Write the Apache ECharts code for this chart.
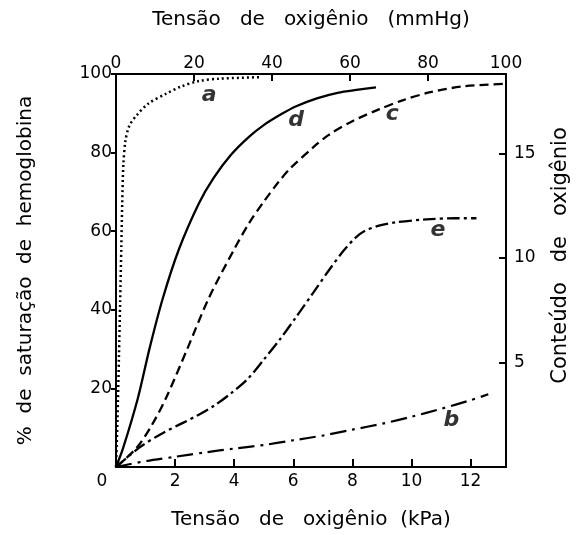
<!DOCTYPE html>
<html>
<head>
<meta charset="utf-8">
<script src="https://cdn.jsdelivr.net/npm/echarts@6/dist/echarts.min.js"></script>
<style>
html,body{margin:0;padding:0;background:#fff;}
#chart{width:579px;height:535px;}
</style>
</head>
<body>
<div id="chart"></div>
<script>
// x in kPa, y in % saturation
const curveA = [[0,0],[0.05,12],[0.1,28],[0.14,42],[0.18,56],[0.21,67],[0.25,77],[0.32,83],[0.45,86.8],[0.7,89.5],[1.1,92.5],[1.7,95],[2.2,96.8],[2.8,98.2],[3.5,98.8],[4.9,99.2]];
const curveD = [[0,0],[0.24,4.8],[0.74,17.5],[1.13,30],[1.58,42.8],[2.13,55.4],[2.8,67],[3.3,73.5],[3.9,79.5],[4.5,84],[5.0,87],[5.6,89.8],[6.1,91.8],[6.8,93.8],[7.5,95.2],[8.2,96],[8.8,96.6]];
const curveC = [[0,0],[0.69,4.8],[1.2,10.5],[1.69,17.5],[2.41,30],[3.13,42.8],[4.0,55.4],[4.5,62],[5.0,67.5],[5.5,72.5],[5.9,76],[6.7,81.5],[7.2,84.5],[8,88],[8.9,91],[9.7,93.3],[10.6,95.3],[11.7,96.8],[13.1,97.5]];
const curveE = [[0,0],[0.8,5],[1.5,8.3],[2.23,11.1],[2.8,13.3],[3.36,15.8],[3.9,18.8],[4.47,22.5],[5.0,27.3],[5.57,32.7],[6.1,38.2],[6.69,44.5],[7.2,50],[7.7,55],[8.1,58.3],[8.4,60],[8.9,61.4],[9.5,62.3],[10.5,63],[11.5,63.3],[12.2,63.3]];
const curveB = [[0,0],[1,1.5],[2,2.6],[3,3.7],[4,4.7],[5,5.6],[6,6.8],[7,8],[8,9.5],[9,11],[10,12.8],[11,14.8],[12,17],[12.6,18.5]];
const curveLabels = [[3.15,95,'a'],[6.1,88.5,'d'],[9.35,90.2,'c'],[10.9,60.5,'e'],[11.35,12.2,'b']];

const txt = {fontFamily:'DejaVu Sans', color:'#000'};
const axisLine = {show:true, onZero:false, lineStyle:{color:'#000', width:2}};
const tickStyle = {color:'#000', width:2};

const chart = echarts.init(document.getElementById('chart'));
function ser(name, data, type, width){
  return {name, type:'line', data, xAxisIndex:0, yAxisIndex:0, smooth:0.3, symbol:'none',
    lineStyle:{color:'#000', width, type, cap:'butt'}, z:3, silent:true};
}
chart.setOption({
  animation:false,
  backgroundColor:'#fff',
  grid:{left:116, right:68, top:74, bottom:66},
  xAxis:[
    {type:'value', position:'bottom', min:0, max:13.2, interval:2,
     name:'Tensão   de   oxigênio  (kPa)', nameLocation:'middle', nameGap:43,
     nameTextStyle:Object.assign({fontSize:20}, txt),
     axisLine, splitLine:{show:false},
     axisTick:{inside:true, length:8, lineStyle:tickStyle},
     axisLabel:Object.assign({fontSize:17, margin:6, showMaxLabel:false,
       formatter:v=> v===0 ? '{z|0}' : String(v),
       rich:{z:Object.assign({fontSize:17, padding:[0,28,0,0]}, txt)}}, txt)},
    {type:'value', position:'top', min:0, max:100, interval:20,
     name:'Tensão   de   oxigênio   (mmHg)', nameLocation:'middle', nameGap:44,
     nameTextStyle:Object.assign({fontSize:20}, txt),
     axisLine, splitLine:{show:false},
     axisTick:{inside:true, length:7, lineStyle:tickStyle},
     axisLabel:Object.assign({fontSize:17, margin:2}, txt)}
  ],
  yAxis:[
    {type:'value', position:'left', min:0, max:100, interval:20,
     name:'%  de  saturação  de  hemoglobina', nameLocation:'middle', nameGap:80, nameRotate:90,
     nameTextStyle:Object.assign({fontSize:20}, txt),
     axisLine, splitLine:{show:false},
     axisTick:{inside:false, length:5, lineStyle:tickStyle},
     axisLabel:Object.assign({fontSize:17, margin:4, showMinLabel:false}, txt)},
    {type:'value', position:'right', min:0, max:18.8, interval:5,
     name:'Conteúdo   de   oxigênio', nameLocation:'middle', nameGap:44, nameRotate:90,
     nameTextStyle:Object.assign({fontSize:21, padding:[0,0,0,30]}, txt),
     axisLine, splitLine:{show:false},
     axisTick:{inside:true, length:7, lineStyle:tickStyle},
     axisLabel:Object.assign({fontSize:17, margin:8, showMinLabel:false, showMaxLabel:false}, txt)}
  ],
  series:[
    ser('a', curveA, [2,3], 2.5),
    ser('d', curveD, 'solid', 2.3),
    ser('c', curveC, [9,5], 2.3),
    ser('e', curveE, [13,4,3,4], 2.3),
    ser('b', curveB, [16,6,3,6], 2.2),
    {type:'scatter', data:curveLabels, symbolSize:1, itemStyle:{color:'rgba(0,0,0,0)'}, silent:true, z:4,
     label:{show:true, position:'top', distance:-13, formatter:p=>p.data[2],
       fontFamily:'DejaVu Sans', fontStyle:'italic', fontWeight:'bold', fontSize:22, color:'#000', textBorderWidth:0}}
  ]
});
</script>
</body>
</html>
